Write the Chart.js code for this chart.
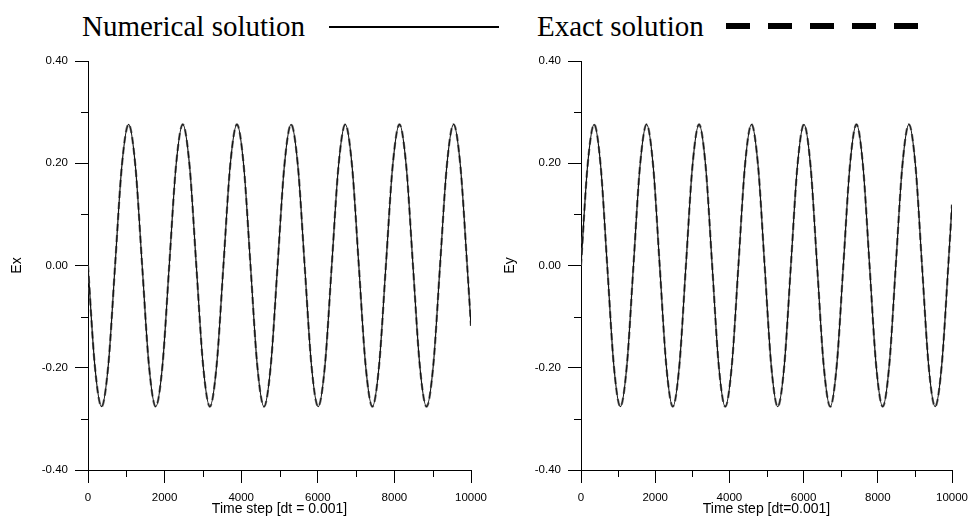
<!DOCTYPE html>
<html>
<head>
<meta charset="utf-8">
<script src="https://cdn.jsdelivr.net/npm/chart.js@4.4.1/dist/chart.umd.min.js"></script>
<style>
  body { margin: 0; background: #fff; overflow: hidden; }
  #page { position: relative; width: 968px; height: 522px; overflow: hidden; }
  .leg { position: absolute; top: 12px; font-family: "Liberation Serif", "Times New Roman", serif;
         font-size: 29px; line-height: 29px; color: #000; white-space: nowrap; }
  #solid { position: absolute; left: 329px; top: 26px; width: 170px; height: 2px; background: #000; }
  #dashed { position: absolute; left: 726px; top: 23px; width: 192px; height: 6px;
            background: repeating-linear-gradient(to right, #000 0 24px, transparent 24px 42px); }
  .box { position: absolute; top: 0; height: 522px; }
</style>
</head>
<body>
<div id="page">
  <span class="leg" style="left:82px">Numerical solution</span>
  <div id="solid"></div>
  <span class="leg" style="left:537px">Exact solution</span>
  <div id="dashed"></div>
  <div class="box" style="left:0;width:490px"><canvas id="gx" width="490" height="522"></canvas></div>
  <div class="box" style="left:488px;width:482px"><canvas id="gy" width="482" height="522"></canvas></div>
</div>
<script>
// time steps (roughly every 1/8 of a period)
var timeSteps = [0, 177, 354, 530, 707, 884, 1061, 1237,
  1414, 1591, 1768, 1945, 2121, 2298, 2475, 2652,
  2828, 3005, 3182, 3359, 3536, 3712, 3889, 4066,
  4243, 4419, 4596, 4773, 4950, 5127, 5303, 5480,
  5657, 5834, 6010, 6187, 6364, 6541, 6718, 6894,
  7071, 7248, 7425, 7601, 7778, 7955, 8132, 8309,
  8485, 8662, 8839, 9016, 9192, 9369, 9546, 9723,
  9900, 10000];

// Ex (left panel)
var exValues = [0, -0.195, -0.276, -0.195, 0, 0.195, 0.276, 0.195,
  0, -0.195, -0.276, -0.195, 0, 0.195, 0.276, 0.195,
  0, -0.195, -0.276, -0.195, 0, 0.195, 0.276, 0.195,
  0, -0.195, -0.276, -0.195, 0, 0.195, 0.276, 0.195,
  0, -0.195, -0.276, -0.195, 0, 0.195, 0.276, 0.195,
  0, -0.195, -0.276, -0.195, 0, 0.195, 0.276, 0.195,
  0, -0.195, -0.276, -0.195, 0, 0.195, 0.276, 0.195,
  0, -0.118];

// Ey (right panel)
var eyValues = [0, 0.195, 0.276, 0.195, 0, -0.195, -0.276, -0.195,
  0, 0.195, 0.276, 0.195, 0, -0.195, -0.276, -0.195,
  0, 0.195, 0.276, 0.195, 0, -0.195, -0.276, -0.195,
  0, 0.195, 0.276, 0.195, 0, -0.195, -0.276, -0.195,
  0, 0.195, 0.276, 0.195, 0, -0.195, -0.276, -0.195,
  0, 0.195, 0.276, 0.195, 0, -0.195, -0.276, -0.195,
  0, 0.195, 0.276, 0.195, 0, -0.195, -0.276, -0.195,
  0, 0.119];

var tickFont = { family: "'Liberation Sans', Arial, sans-serif", size: 11.5 };
var titleFont = { family: "'Liberation Sans', Arial, sans-serif", size: 14 };

function points(vals) {
  return timeSteps.map(function (t, i) { return { x: t, y: vals[i] }; });
}

// short minor ticks halfway between the labelled ones
var minorTicks = {
  id: 'minorTicks',
  afterDraw: function (chart) {
    var ctx = chart.ctx, area = chart.chartArea, x = chart.scales.x, y = chart.scales.y;
    ctx.save();
    ctx.strokeStyle = '#000';
    ctx.lineWidth = 1;
    ctx.beginPath();
    for (var i = 0; i < x.ticks.length - 1; i++) {
      var px = Math.round(x.getPixelForValue((x.ticks[i].value + x.ticks[i + 1].value) / 2)) + 0.5;
      ctx.moveTo(px, area.bottom);
      ctx.lineTo(px, area.bottom + 7);
    }
    for (var j = 0; j < y.ticks.length - 1; j++) {
      var py = Math.round(y.getPixelForValue((y.ticks[j].value + y.ticks[j + 1].value) / 2)) + 0.5;
      ctx.moveTo(area.left, py);
      ctx.lineTo(area.left - 7, py);
    }
    ctx.stroke();
    ctx.restore();
  }
};

function panel(id, vals, yTitle, xTitle, yWidth, yTitlePad, padRight) {
  return new Chart(document.getElementById(id), {
    type: 'line',
    data: {
      datasets: [
        {
          label: 'Numerical solution',
          data: points(vals),
          borderColor: '#111',
          borderWidth: 1.2,
          pointRadius: 0,
          cubicInterpolationMode: 'monotone'
        },
        {
          label: 'Exact solution',
          data: points(vals),
          borderColor: '#666',
          borderWidth: 2.2,
          borderDash: [7, 4],
          pointRadius: 0,
          cubicInterpolationMode: 'monotone'
        }
      ]
    },
    options: {
      responsive: false,
      animation: false,
      devicePixelRatio: 1,
      layout: { padding: { top: 61, right: padRight, bottom: 0, left: 0 } },
      plugins: { legend: { display: false }, tooltip: { enabled: false } },
      scales: {
        x: {
          type: 'linear',
          min: 0,
          max: 10000,
          ticks: {
            stepSize: 2000, maxRotation: 0, autoSkip: false, padding: 8, color: '#000', font: tickFont,
            callback: function (v) { return String(v); }
          },
          grid: { drawOnChartArea: false, tickLength: 13, color: '#000', tickColor: '#000' },
          border: { color: '#000', width: 1 },
          title: { display: true, text: xTitle, color: '#000', font: titleFont, padding: { top: 0, bottom: 4 } },
          afterFit: function (s) { s.height = 52; s.paddingLeft = 0; s.paddingRight = 0; }
        },
        y: {
          min: -0.4,
          max: 0.4,
          ticks: {
            stepSize: 0.2, padding: 7, color: '#000', font: tickFont,
            callback: function (v) { return v.toFixed(2); }
          },
          grid: { drawOnChartArea: false, tickLength: 13, color: '#000', tickColor: '#000' },
          border: { color: '#000', width: 1 },
          title: { display: true, text: yTitle, color: '#000', font: titleFont, padding: { top: yTitlePad, bottom: 0 } },
          afterFit: function (s) { s.width = yWidth; }
        }
      }
    },
    plugins: [minorTicks]
  });
}

panel('gx', exValues, 'Ex', 'Time step [dt = 0.001]', 88, 9, 19);
panel('gy', eyValues, 'Ey', 'Time step [dt=0.001]', 93, 14, 18);
</script>
</body>
</html>
